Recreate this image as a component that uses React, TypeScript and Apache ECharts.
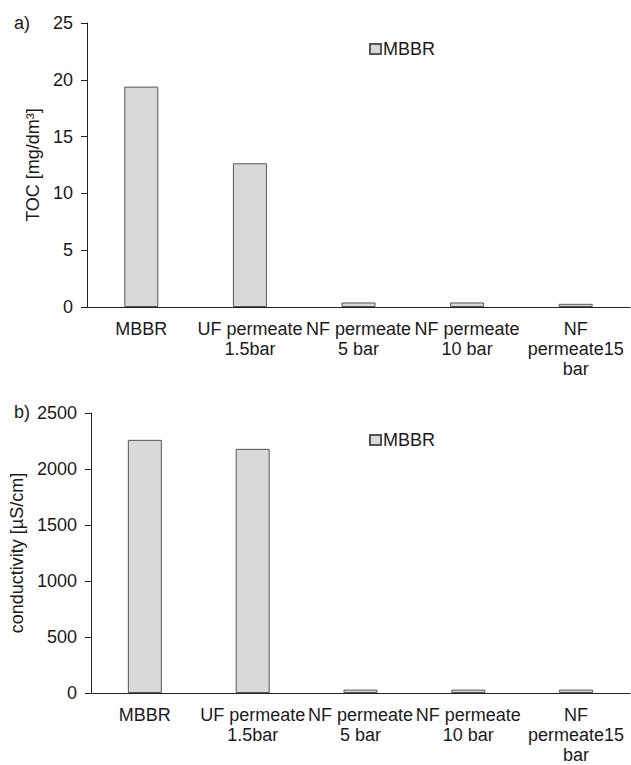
import React, { useEffect, useRef } from "react";
import * as echarts from "echarts";

const categories = ["MBBR", "UF permeate\n1.5bar", "NF permeate\n5 bar", "NF permeate\n10 bar", "NF\npermeate15\nbar"];
const tocValues = [19.4, 12.65, 0.4, 0.4, 0.28];
const condValues = [2260, 2180, 30, 30, 30];
const seriesName = "MBBR";

const FONT = "Liberation Sans, Arial, sans-serif";
const TEXT = "#1a1a1a";
const FS = 18;

export default function App() {
  const ref = useRef<HTMLDivElement>(null);
  useEffect(() => {
    if (!ref.current) return;
    const chart = echarts.init(ref.current, undefined, { renderer: "svg" });
    const axisLine = { show: true, lineStyle: { color: "#222", width: 1 } };
    const xAxisCommon = {
      type: "category" as const,
      data: categories,
      axisLine,
      axisTick: { show: false },
      axisLabel: { interval: 0, color: TEXT, fontSize: FS, fontFamily: FONT, lineHeight: 20, margin: 12 },
    };
    const yAxisCommon = {
      type: "value" as const,
      axisLine,
      axisTick: { show: true, length: 6, lineStyle: { color: "#222" } },
      splitLine: { show: false },
      nameLocation: "middle" as const,
      nameTextStyle: { color: TEXT, fontSize: FS, fontFamily: FONT },
      axisLabel: { color: TEXT, fontSize: FS, fontFamily: FONT, margin: 14, formatter: (v: number) => String(v) },
    };
    const barStyle = { color: "#d9d9d9", borderColor: "#555", borderWidth: 1 };
    const legendCommon = {
      left: 364,
      itemWidth: 11,
      itemHeight: 10,
      itemGap: 4,
      icon: "rect",
      data: [seriesName],
      textStyle: { color: TEXT, fontSize: FS, fontFamily: FONT, padding: [0, 0, 0, -3] },
    };
    chart.setOption({
      animation: false,
      textStyle: { fontFamily: FONT },
      grid: [
        { left: 87, top: 23, width: 543, height: 284 },
        { left: 87, top: 413, width: 543, height: 284 },
      ],
      legend: [
        { ...legendCommon, top: 35 },
        { ...legendCommon, top: 426 },
      ],
      xAxis: [
        { ...xAxisCommon, gridIndex: 0 },
        { ...xAxisCommon, gridIndex: 1 },
      ],
      yAxis: [
        { ...yAxisCommon, gridIndex: 0, min: 0, max: 25, interval: 5, name: "TOC [mg/dm³]", nameGap: 36 },
        { ...yAxisCommon, gridIndex: 1, min: 0, max: 2500, interval: 500, name: "conductivity [µS/cm]", nameGap: 57 },
      ],
      graphic: [
        { type: "text", left: 14, top: 14, style: { text: "a)", fontSize: FS, fontFamily: FONT, fill: TEXT } },
        { type: "text", left: 14, top: 403, style: { text: "b)", fontSize: FS, fontFamily: FONT, fill: TEXT } },
      ],
      series: [
        { name: seriesName, type: "bar", xAxisIndex: 0, yAxisIndex: 0, data: tocValues, barWidth: 34, itemStyle: barStyle },
        { name: seriesName, type: "bar", xAxisIndex: 1, yAxisIndex: 1, data: condValues, barWidth: 34, itemStyle: barStyle },
      ],
    });
    return () => chart.dispose();
  }, []);
  return <div ref={ref} style={{ position: "fixed", left: 0, top: 0, width: 631, height: 765, background: "#fff" }} />;
}
